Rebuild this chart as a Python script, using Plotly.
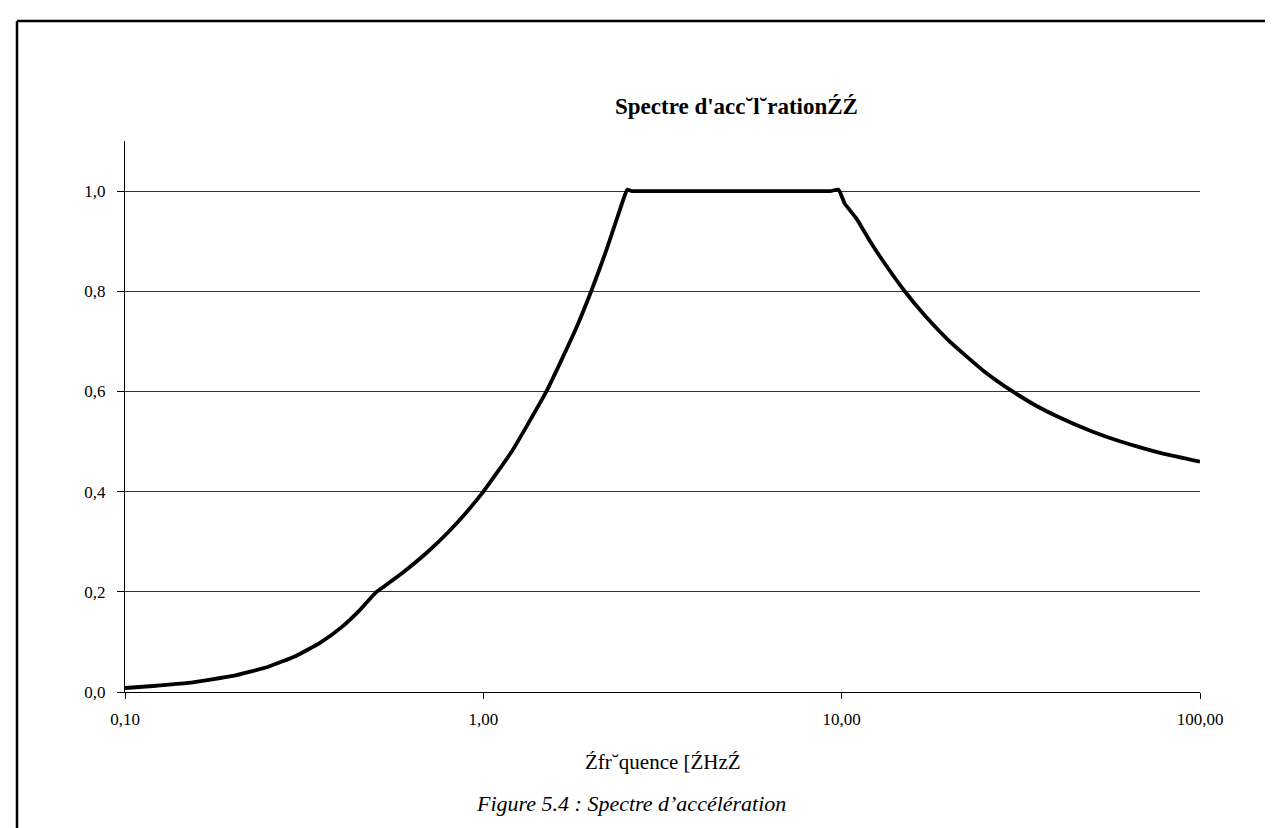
import plotly.graph_objects as go

# Data
freq = [0.1, 0.12, 0.15, 0.2, 0.25, 0.3, 0.35, 0.4, 0.45, 0.5, 0.52, 0.6, 0.7, 0.8, 0.9,
        1.0, 1.2, 1.5, 1.8, 2.0, 2.2, 2.45, 2.52, 2.6, 3.0, 4.0, 5.0, 6.0, 8.0, 9.3, 9.8,
        10.2, 11.0, 12.0, 13.0, 15.0, 17.0, 20.0, 25.0, 30.0, 35.0, 40.0, 50.0, 60.0,
        70.0, 80.0, 100.0]
accel = [0.008, 0.012, 0.018, 0.032, 0.05, 0.072, 0.098, 0.128, 0.162, 0.198, 0.207, 0.24,
         0.28, 0.32, 0.36, 0.4, 0.48, 0.6, 0.72, 0.8, 0.88, 0.98, 1.003, 1.0, 1.0, 1.0,
         1.0, 1.0, 1.0, 1.0, 1.003, 0.975, 0.945, 0.9, 0.862, 0.8, 0.753, 0.7, 0.64, 0.6,
         0.571, 0.55, 0.52, 0.5, 0.486, 0.475, 0.46]

x_tickvals = [0.1, 1, 10, 100]
x_ticktext = ["0,10", "1,00", "10,00", "100,00"]
y_tickvals = [0.0, 0.2, 0.4, 0.6, 0.8, 1.0]
y_ticktext = ["0,0", "0,2", "0,4", "0,6", "0,8", "1,0"]

title_text = "Spectre d'acc˘l˘rationŹŹ"
xtitle_text = "Źfr˘quence [ŹHzŹ"
caption_text = "Figure 5.4 : Spectre d’accélération"

W, H = 1273, 828
L, R, T, B = 117, 1192, 133, 684
FONT = "Liberation Serif"


def px(xp):
    return (xp - L) / (R - L)


def py(yp):
    return (B - yp) / (B - T)


fig = go.Figure()
fig.add_trace(go.Scatter(x=freq, y=accel, mode="lines",
                         line=dict(color="black", width=3.8, shape="spline", smoothing=0.4),
                         showlegend=False, hoverinfo="skip"))

fig.update_layout(
    width=W, height=H,
    margin=dict(l=L, r=W - R, t=T, b=H - B, pad=0),
    paper_bgcolor="white", plot_bgcolor="white",
    font=dict(family=FONT, color="black", size=16),
    xaxis=dict(type="log", range=[-1, 2], tickvals=x_tickvals, ticktext=x_ticktext,
               showgrid=False, zeroline=False, showline=True, linecolor="black",
               linewidth=1, ticks="outside", ticklen=6, tickcolor="black",
               ticklabelstandoff=6, tickfont=dict(family=FONT, size=17)),
    yaxis=dict(range=[0, 1.1], tickvals=y_tickvals, ticktext=y_ticktext,
               showgrid=True, gridcolor="#333333", gridwidth=1, zeroline=False,
               showline=True, linecolor="black", linewidth=1, ticks="outside",
               ticklen=7, tickcolor="black", ticklabelstandoff=8,
               tickfont=dict(family=FONT, size=17)),
)

# Chart title
fig.add_annotation(text="<b>" + title_text + "</b>", xref="paper", yref="paper",
                   x=px(605), y=py(99), xanchor="left", yanchor="middle",
                   showarrow=False, font=dict(family=FONT, size=23, color="black"))
# X axis title
fig.add_annotation(text=xtitle_text, xref="paper", yref="paper",
                   x=px(655), y=py(754), xanchor="center", yanchor="middle",
                   showarrow=False, font=dict(family=FONT, size=21, color="black"))
# Caption
fig.add_annotation(text="<i>" + caption_text + "</i>", xref="paper", yref="paper",
                   x=px(466), y=py(795), xanchor="left", yanchor="middle",
                   showarrow=False, font=dict(family=FONT, size=22, color="black"))

# Frame
frame = dict(color="black", width=2.5)
fig.add_shape(type="line", xref="paper", yref="paper", x0=px(9), x1=px(1273),
              y0=py(13), y1=py(13), line=frame)
fig.add_shape(type="line", xref="paper", yref="paper", x0=px(9), x1=px(9),
              y0=py(13), y1=py(828), line=frame)
fig.add_shape(type="line", xref="paper", yref="paper", x0=px(1271), x1=px(1271),
              y0=py(13), y1=py(270), line=frame)

fig.write_html("out.html")
